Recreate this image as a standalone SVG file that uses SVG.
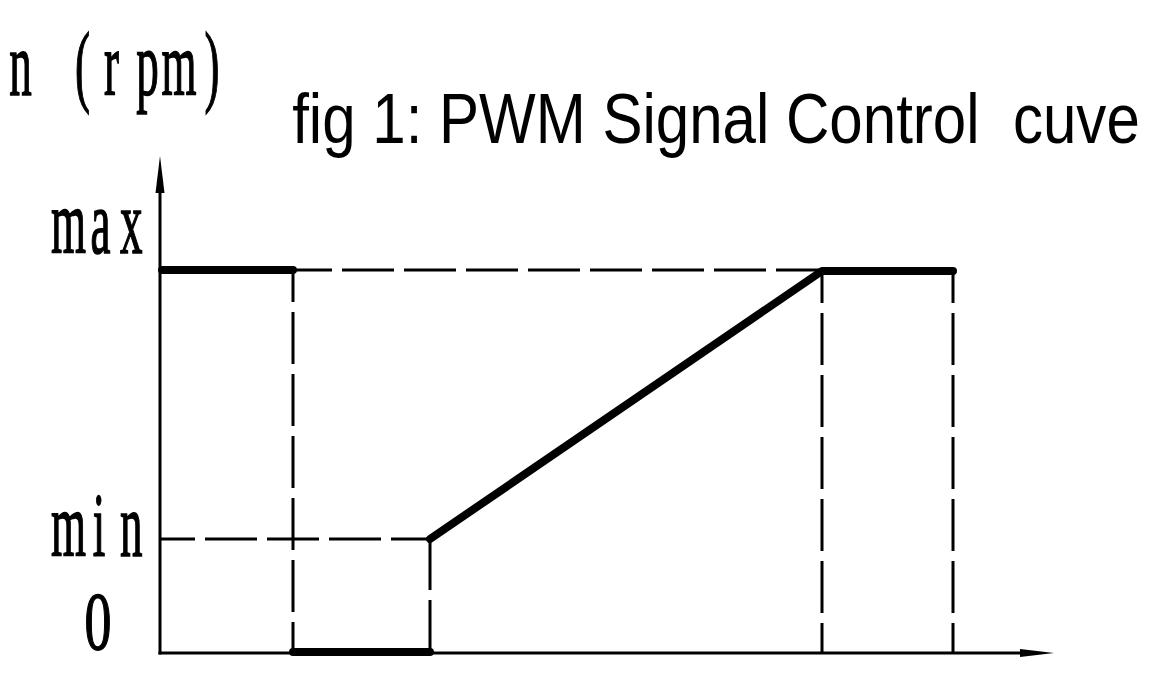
<svg xmlns="http://www.w3.org/2000/svg" width="1168" height="698" viewBox="0 0 1168 698">
<style>
.lbl{font-family:"Liberation Serif","Times New Roman",serif;font-size:90px;fill:#000;stroke:#000;stroke-width:1.5;}
.title{font-family:"Liberation Sans",Arial,sans-serif;font-size:70px;fill:#000;}
.axis{stroke:#000;stroke-width:3;fill:none;}
.dash{stroke:#000;stroke-width:3;fill:none;stroke-dasharray:52 10;}
.thick{stroke:#000;stroke-width:8;fill:none;stroke-linecap:round;stroke-linejoin:round;}
</style>
<rect width="1168" height="698" fill="#fff"/>
<g id="labels">
<text class="lbl" transform="scale(0.5,1)" x="18.5 70 150 208 272.5 323 409" y="95" xml:space="preserve">n (rpm)</text>
<text class="lbl" transform="scale(0.5,1)" x="102 181 240" y="253">max</text>
<text class="lbl" transform="scale(0.5,1)" x="102 185.5 240" y="556">min</text>
<text class="lbl" transform="scale(0.65,1)" x="130" y="649" style="font-size:83px">0</text>
<text class="title" transform="scale(0.858,1)" x="340.5" y="143" xml:space="preserve">fig 1: PWM Signal Control  cuve</text>
</g>
<g id="axes">
<line class="axis" x1="160" y1="190" x2="160" y2="654.5"/>
<polygon points="160,156 155.5,193 164.5,193" fill="#000"/>
<line class="axis" x1="158.5" y1="653" x2="1022" y2="653"/>
<polygon points="1054,653 1020,649 1020,657" fill="#000"/>
</g>
<g id="connectors">
<line class="dash" x1="293" y1="270" x2="822" y2="270" stroke-dashoffset="13"/>
<line class="dash" x1="160" y1="539" x2="430" y2="539" stroke-dashoffset="17"/>
<line class="dash" x1="293" y1="270" x2="293" y2="653" stroke-dashoffset="20"/>
<line class="dash" x1="430" y1="539" x2="430" y2="653" stroke-dashoffset="1"/>
<line class="dash" x1="822" y1="271" x2="822" y2="653" stroke-dashoffset="20"/>
<line class="dash" x1="953" y1="271" x2="953" y2="653" stroke-dashoffset="20"/>
</g>
<g id="curve">
<line class="thick" x1="162" y1="270" x2="293" y2="270"/>
<line class="thick" x1="293" y1="652" x2="430" y2="652"/>
<polyline class="thick" points="430,539 822,271 953,271"/>
</g>
</svg>
